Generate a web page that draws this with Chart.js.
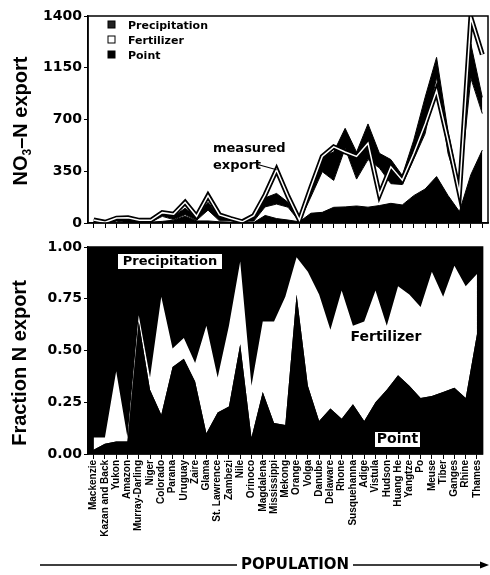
<!DOCTYPE html>
<html>
<head>
<meta charset="utf-8">
<script src="https://cdn.jsdelivr.net/npm/chart.js@4.4.1/dist/chart.umd.min.js"></script>
<style>
  body { margin: 0; background: #fff; }
  #wrap { position: relative; width: 490px; height: 575px; }
  canvas { position: absolute; left: 0; }
  #exportChart { top: 0; }
  #fractionChart { top: 232px; }
</style>
</head>
<body>
<div id="wrap">
  <canvas id="exportChart" width="490" height="235"></canvas>
  <canvas id="fractionChart" width="490" height="343"></canvas>
</div>
<script>
const rivers = ["Mackenzie", "Kazan and Back", "Yukon", "Amazon", "Murray-Darling", "Niger", "Colorado",
  "Parana", "Uruguay", "Zaire", "Glama", "St. Lawrence", "Zambezi", "Nile", "Orinoco", "Magdalena",
  "Mississippi", "Mekong", "Orange", "Volga", "Danube", "Delaware", "Rhone", "Susquehanna", "Adige",
  "Vistula", "Hudson", "Huang He", "Yangtze", "Po", "Meuse", "Tiber", "Ganges", "Rhine", "Thames"];

// top panel, NO3-N export
const measuredExport = [20, 5, 33, 35, 18, 18, 70, 60, 140, 45, 185, 55, 30, 8, 50, 190, 360, 180, 20, 240,
  450, 515, 480, 450, 540, 190, 380, 290, 470, 670, 895, 560, 200, 1390, 1140];
const pointExport = [1, 1, 2, 2, 10, 6, 11, 19, 46, 14, 14, 8, 6, 8, 3, 51, 30, 20, 8, 66,
  72, 106, 109, 115, 107, 118, 133, 122, 185, 230, 314, 186, 77, 327, 493];
const fertilizerExport = [1, 0, 10, 1, 0, 1, 34, 4, 10, 4, 73, 7, 10, 6, 9, 58, 98, 87, 2, 110,
  275, 182, 397, 182, 322, 254, 133, 138, 246, 374, 672, 285, 142, 653, 247];
const precipitationExport = [23, 14, 18, 32, 5, 13, 15, 22, 44, 22, 53, 25, 9, 1, 23, 61, 72, 33, 0, 24,
  103, 192, 134, 182, 241, 99, 163, 61, 129, 247, 134, 149, 22, 230, 110];
const exportTicks = [0, 350, 700, 1050, 1400];
const exportTickLabels = ["0", "350", "700", "1150", "1400"];

// bottom panel, fraction of N export
const pointFraction = [0.02, 0.05, 0.06, 0.06, 0.64, 0.31, 0.19, 0.42, 0.46, 0.35, 0.10, 0.20, 0.23, 0.53,
  0.08, 0.30, 0.15, 0.14, 0.77, 0.33, 0.16, 0.22, 0.17, 0.24, 0.16, 0.25, 0.31, 0.38, 0.33, 0.27, 0.28,
  0.30, 0.32, 0.27, 0.58];
const fertilizerFraction = [0.06, 0.03, 0.34, 0.02, 0.03, 0.06, 0.57, 0.09, 0.10, 0.09, 0.52, 0.17, 0.39,
  0.40, 0.25, 0.34, 0.49, 0.62, 0.18, 0.55, 0.61, 0.38, 0.62, 0.38, 0.48, 0.54, 0.31, 0.43, 0.44, 0.44,
  0.60, 0.46, 0.59, 0.54, 0.29];
const precipitationFraction = [0.92, 0.92, 0.60, 0.92, 0.33, 0.63, 0.24, 0.49, 0.44, 0.56, 0.38, 0.63,
  0.38, 0.07, 0.67, 0.36, 0.36, 0.24, 0.05, 0.12, 0.23, 0.40, 0.21, 0.38, 0.36, 0.21, 0.38, 0.19, 0.23,
  0.29, 0.12, 0.24, 0.09, 0.19, 0.13];
const fractionTicks = [0, 0.25, 0.5, 0.75, 1];

const ARIAL = "'Liberation Sans', Arial, sans-serif";
const WIDE = "'DejaVu Sans', sans-serif";

function xAxis(showLabels, height) {
  return {
    type: "category",
    offset: true,
    grid: { drawOnChartArea: false, drawTicks: true, tickLength: 5, color: "#000", lineWidth: 1 },
    border: { color: "#000", width: 1.5 },
    ticks: {
      display: showLabels, autoSkip: false, minRotation: 90, maxRotation: 90, padding: 1,
      color: "#000", font: { family: ARIAL, size: 10, weight: "bold" },
    },
    afterFit: (s) => { s.height = height; },
  };
}

function yAxis(max, ticks, fmt) {
  return {
    min: 0, max: max, stacked: true,
    grid: { drawOnChartArea: false, tickLength: 4, color: "#000" },
    border: { color: "#000", width: 1.5 },
    afterBuildTicks: (s) => { s.ticks = ticks.map((v) => ({ value: v })); },
    ticks: { color: "#000", padding: 2, font: { family: WIDE, size: 14, weight: "bold" }, callback: fmt },
    afterFit: (s) => { s.width = 88; },
  };
}

function area(label, data, color, fill, border) {
  return {
    label, data, fill, stack: "model",
    backgroundColor: color, borderColor: "#000", borderWidth: border,
  };
}

function verticalTitle(ctx, cx, cy, parts) {
  ctx.save();
  ctx.translate(cx, cy);
  ctx.rotate(-Math.PI / 2);
  ctx.fillStyle = "#000";
  ctx.textBaseline = "alphabetic";
  let w = 0;
  parts.forEach((p) => { ctx.font = p.font; w += ctx.measureText(p.text).width; });
  let x = -w / 2;
  parts.forEach((p) => {
    ctx.font = p.font;
    ctx.fillText(p.text, x, 7 + (p.dy || 0));
    x += ctx.measureText(p.text).width;
  });
  ctx.restore();
}

const exportDecor = {
  id: "exportDecor",
  afterDraw(chart) {
    const { ctx, chartArea: a, scales } = chart;
    ctx.save();
    ctx.strokeStyle = "#000";
    ctx.lineWidth = 1.5;
    ctx.strokeRect(a.left, a.top, a.right - a.left, a.bottom - a.top);

    // legend
    ctx.font = "bold 11px " + WIDE;
    ctx.textBaseline = "alphabetic";
    [2, 1, 0].forEach((di, row) => {
      const ds = chart.data.datasets[di];
      const y = 21 + row * 15;
      ctx.fillStyle = di === 2 ? "#222" : ds.backgroundColor;
      ctx.fillRect(108, y, 7, 7);
      ctx.lineWidth = 1;
      ctx.strokeRect(108, y, 7, 7);
      ctx.fillStyle = "#000";
      ctx.fillText(ds.label, 128, y + 7.5);
    });

    // measured export note
    ctx.font = "bold 13px " + WIDE;
    ctx.fillText("measured", 213, 152);
    ctx.fillText("export", 213, 169);
    const px = scales.x.getPixelForValue(16);
    const py = scales.y.getPixelForValue(measuredExport[16]);
    ctx.lineWidth = 1.2;
    ctx.beginPath();
    ctx.moveTo(256, 164);
    ctx.lineTo(px, py);
    ctx.stroke();
    ctx.restore();

    verticalTitle(ctx, 20, 121, [
      { text: "NO", font: "bold 20px " + ARIAL },
      { text: "3", font: "bold 12px " + ARIAL, dy: 4 },
      { text: "\u2013N export", font: "bold 20px " + ARIAL },
    ]);
  },
};

const fractionDecor = {
  id: "fractionDecor",
  beforeDatasetsDraw(chart) {
    const { ctx, chartArea: a } = chart;
    ctx.save();
    ctx.fillStyle = "#000";
    ctx.fillRect(a.left, a.top, a.right - a.left, a.bottom - a.top);
    ctx.restore();
  },
  afterDraw(chart) {
    const { ctx, chartArea: a } = chart;
    ctx.save();
    ctx.strokeStyle = "#000";
    ctx.lineWidth = 1.5;
    ctx.strokeRect(a.left, a.top, a.right - a.left, a.bottom - a.top);

    ctx.textBaseline = "middle";
    ctx.textAlign = "center";
    ctx.font = "bold 13px " + WIDE;
    ctx.fillStyle = "#fff";
    ctx.fillRect(118, 22, 104, 15);
    ctx.fillStyle = "#000";
    ctx.fillText("Precipitation", 170, 29.5);

    ctx.font = "bold 14px " + WIDE;
    ctx.fillText("Fertilizer", 386, 105);

    ctx.fillStyle = "#fff";
    ctx.fillRect(375, 200, 45, 15);
    ctx.fillStyle = "#000";
    ctx.fillText("Point", 397.5, 207.5);

    // population arrow
    ctx.font = "bold 15px " + WIDE;
    ctx.fillText("POPULATION", 295, 333);
    ctx.lineWidth = 1.3;
    ctx.beginPath();
    ctx.moveTo(40, 333);
    ctx.lineTo(237, 333);
    ctx.moveTo(353, 333);
    ctx.lineTo(482, 333);
    ctx.stroke();
    ctx.beginPath();
    ctx.moveTo(489, 333);
    ctx.lineTo(480, 329.5);
    ctx.lineTo(480, 336.5);
    ctx.closePath();
    ctx.fill();
    ctx.restore();

    verticalTitle(ctx, 19, 131, [{ text: "Fraction N export", font: "bold 20px " + ARIAL }]);
  },
};

const common = {
  responsive: false,
  animation: false,
  elements: { point: { radius: 0 }, line: { tension: 0 } },
  plugins: { legend: { display: false }, tooltip: { enabled: false } },
};

new Chart(document.getElementById("exportChart"), {
  type: "line",
  data: {
    labels: rivers,
    datasets: [
      area("Point", pointExport, "#000", "origin", 1),
      area("Fertilizer", fertilizerExport, "#fff", "-1", 1),
      area("Precipitation", precipitationExport, "#000", "-1", 1),
      { label: "measured", data: measuredExport, fill: false, stack: "m1", order: -1,
        borderColor: "#000", borderWidth: 5, borderJoinStyle: "miter" },
      { label: "measured inner", data: measuredExport, fill: false, stack: "m2", order: -2,
        borderColor: "#fff", borderWidth: 1.5 },
    ],
  },
  options: {
    ...common,
    layout: { padding: { top: 16, right: 2, left: 0, bottom: 0 } },
    scales: {
      x: xAxis(false, 12),
      y: yAxis(1400, exportTicks, (v) => exportTickLabels[exportTicks.indexOf(v)]),
    },
  },
  plugins: [exportDecor],
});

new Chart(document.getElementById("fractionChart"), {
  type: "line",
  data: {
    labels: rivers,
    datasets: [
      area("Point", pointFraction, "#000", "origin", 0),
      area("Fertilizer", fertilizerFraction, "#fff", "-1", 0),
      area("Precipitation", precipitationFraction, "#000", "-1", 0),
    ],
  },
  options: {
    ...common,
    layout: { padding: { top: 15, right: 2, left: 0, bottom: 0 } },
    scales: {
      x: xAxis(true, 121),
      y: yAxis(1, fractionTicks, (v) => v.toFixed(2)),
    },
  },
  plugins: [fractionDecor],
});
</script>
</body>
</html>
